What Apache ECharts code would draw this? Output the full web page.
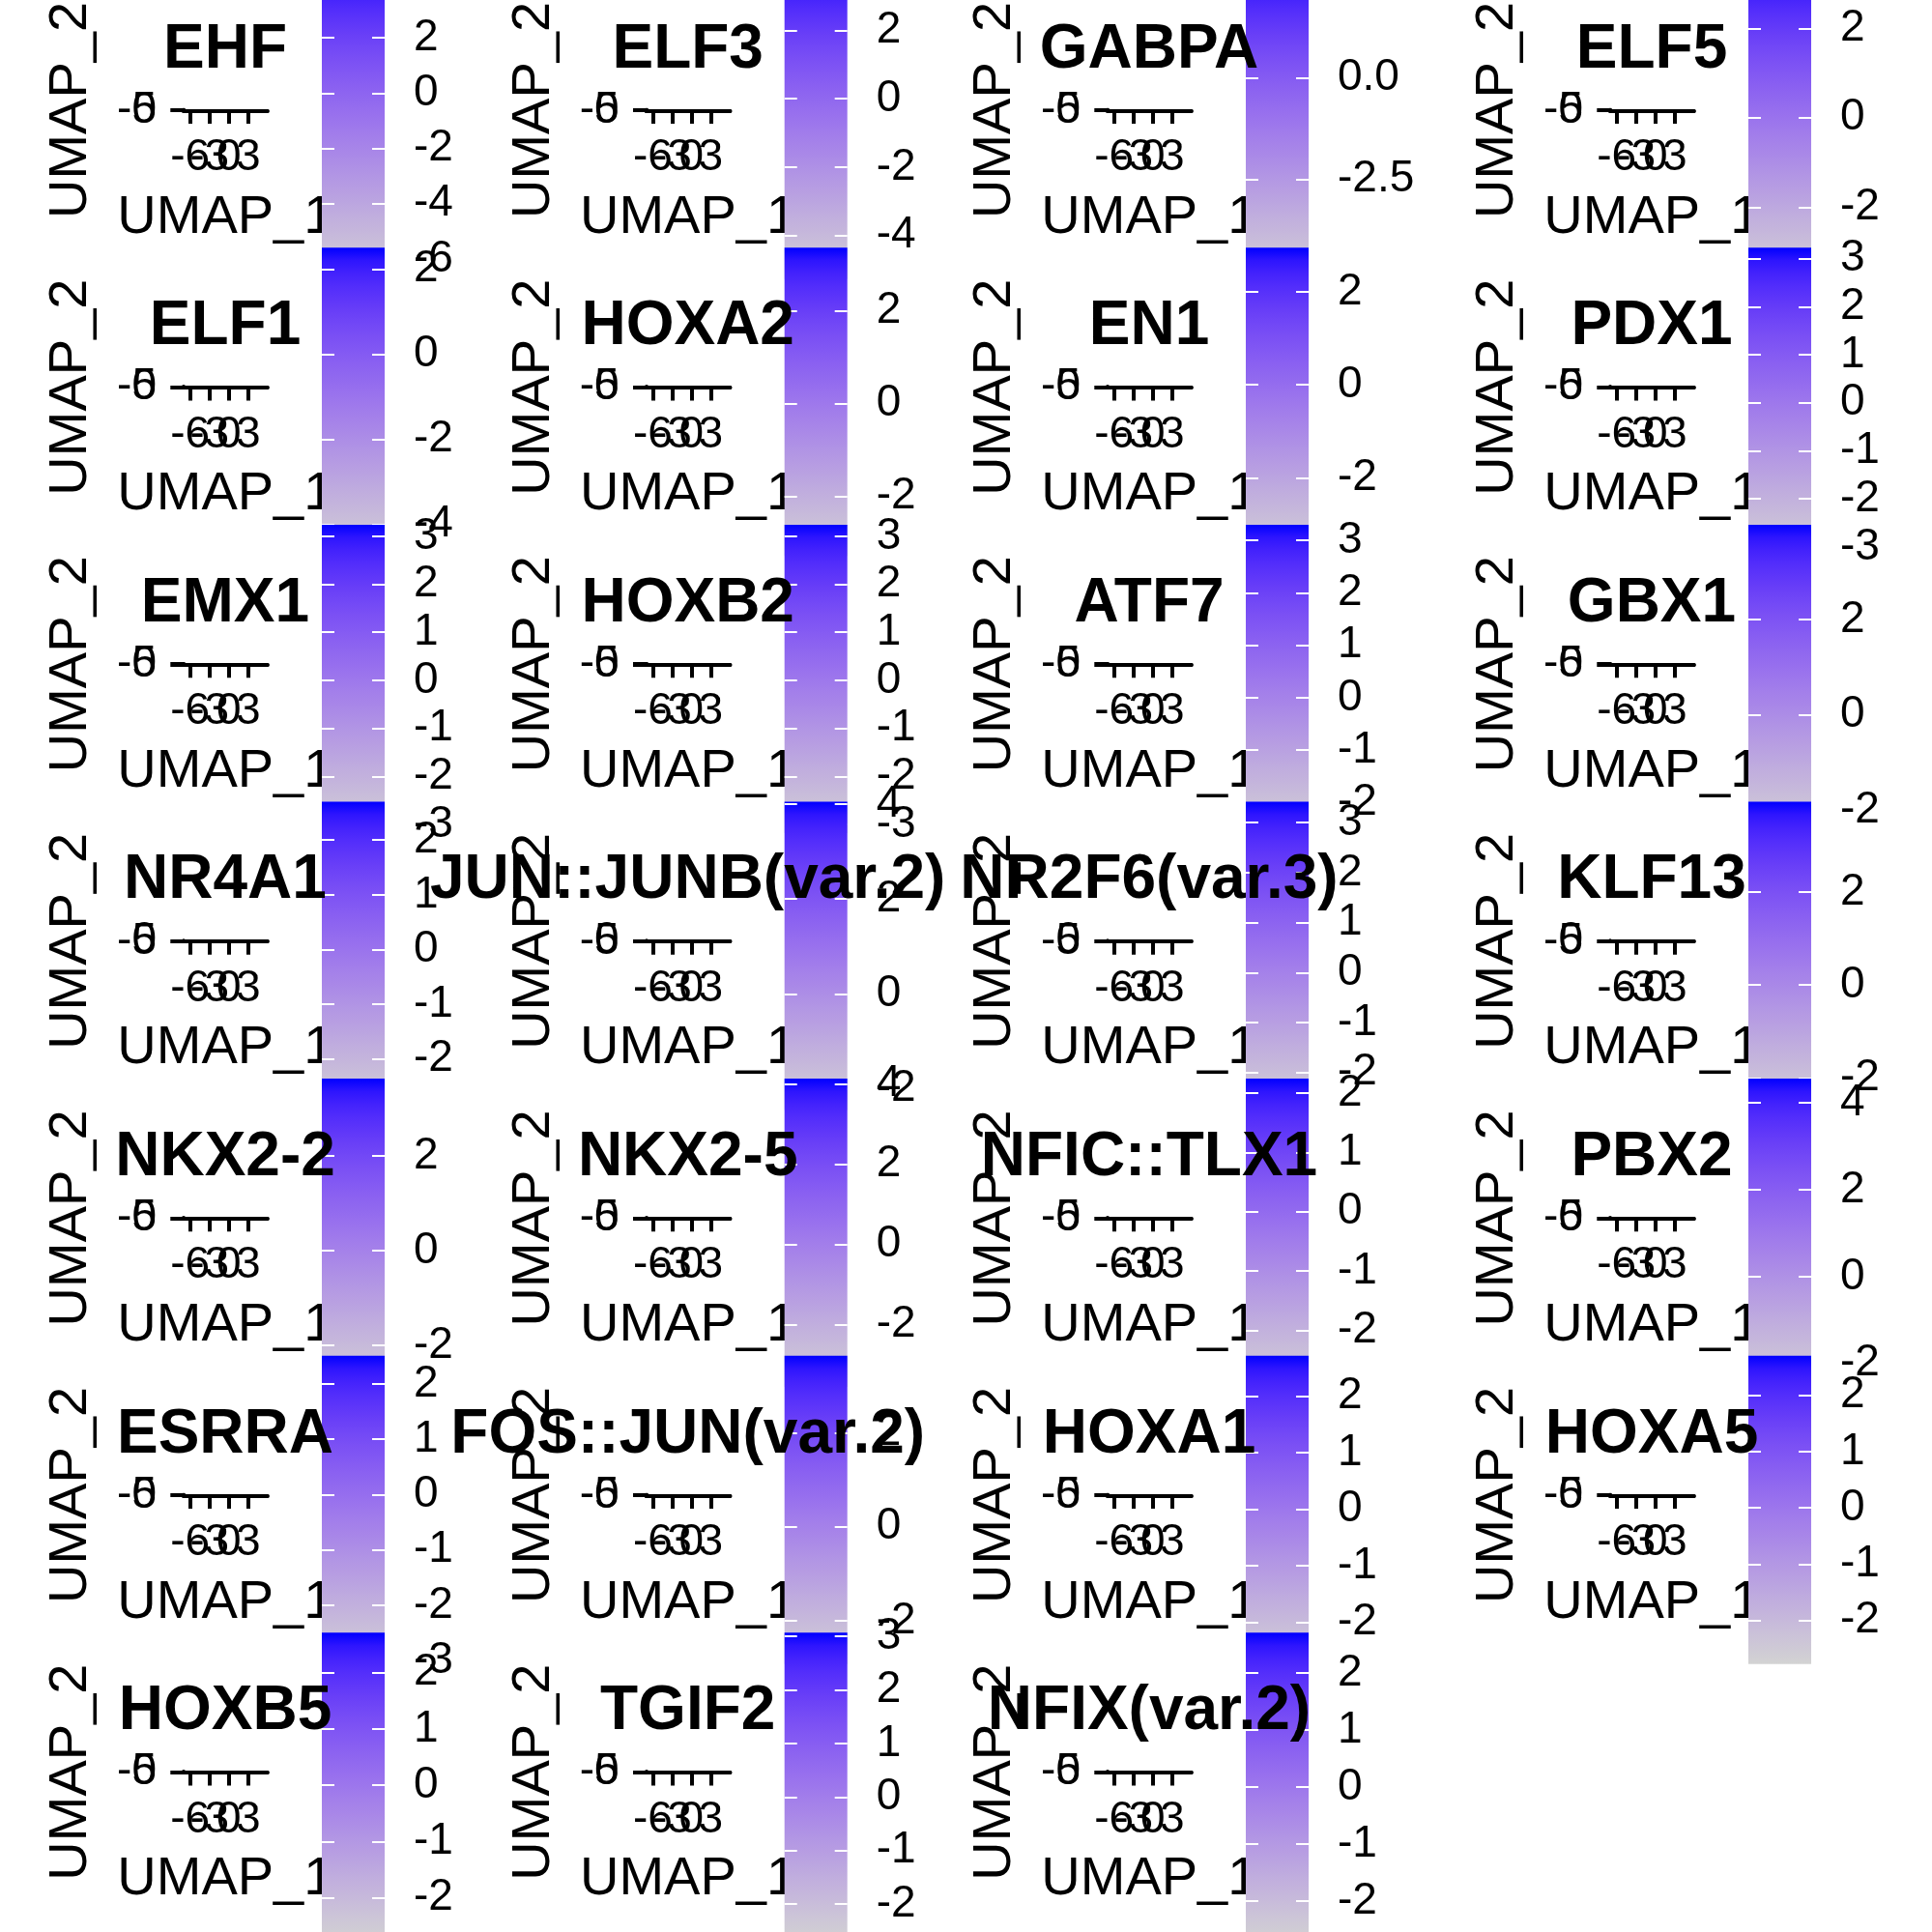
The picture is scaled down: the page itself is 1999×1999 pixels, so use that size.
<!DOCTYPE html>
<html><head><meta charset="utf-8">
<script src="https://cdn.jsdelivr.net/npm/echarts@6/dist/echarts.min.js"></script>
<style>html,body{margin:0;padding:0;background:#fff}#c{width:1999px;height:1999px}</style>
</head><body><div id="c"></div>
<script>
// ---------- data ----------
const features = ['EHF','ELF3','GABPA','ELF5','ELF1','HOXA2','EN1','PDX1','EMX1','HOXB2','ATF7','GBX1',
  'NR4A1','JUN::JUNB(var.2)','NR2F6(var.3)','KLF13','NKX2-2','NKX2-5','NFIC::TLX1','PBX2',
  'ESRRA','FOS::JUN(var.2)','HOXA1','HOXA5','HOXB5','TGIF2','NFIX(var.2)'];
const scoreMin = [-6.72,-5.27,-4.95,-3.61, -4.75,-3.29,-3.68,-3.19, -3.18,-3.18,-2.58,-2.47,
  -2.93,-2.45,-2.75,-2.69, -2.88,-3.55,-2.95,-2.54, -3.06,-2.92,-2.74,-2.77, -2.77,-2.69,-2.70];
const scoreMax = [4.42,3.74,2.645,3.29, 2.5,3.36,2.95,3.23, 3.24,3.24,3.30,3.98,
  2.7,4.05,3.42,3.94, 3.63,4.13,2.24,4.55, 2.51,3.64,2.72,2.70, 2.71,3.07,2.71];
const scoreTicks = [
  [4,2,0,-2,-4,-6],[2,0,-2,-4],[2.5,0,-2.5],[2,0,-2],
  [2,0,-2,-4],[2,0,-2],[2,0,-2],[3,2,1,0,-1,-2,-3],
  [3,2,1,0,-1,-2,-3],[3,2,1,0,-1,-2,-3],[3,2,1,0,-1,-2],[2,0,-2],
  [2,1,0,-1,-2],[4,2,0,-2],[3,2,1,0,-1,-2],[2,0,-2],
  [2,0,-2],[4,2,0,-2],[2,1,0,-1,-2],[4,2,0,-2],
  [2,1,0,-1,-2,-3],[2,0,-2],[2,1,0,-1,-2],[2,1,0,-1,-2],
  [2,1,0,-1,-2],[3,2,1,0,-1,-2],[2,1,0,-1,-2]];
const umapXTicks = [-6,-3,0,3];
const umapYTicks = [-5,0];
const umapXRange = [-7, 6];
const umapYRange = [-6.5, 3.5];

// ---------- colour ramp (lightgrey -> blue, CIELAB) ----------
const lowCol = '#D3D3D3', highCol = '#0000FF';
function hex2rgb(h){return [parseInt(h.slice(1,3),16),parseInt(h.slice(3,5),16),parseInt(h.slice(5,7),16)];}
function toLin(c){c/=255;return c<=0.04045?c/12.92:Math.pow((c+0.055)/1.055,2.4);}
function fromLin(c){c=c<=0.0031308?12.92*c:1.055*Math.pow(c,1/2.4)-0.055;return Math.max(0,Math.min(255,Math.round(c*255)));}
const WX=0.95047,WY=1,WZ=1.08883;
function ff(t){return t>0.008856?Math.cbrt(t):7.787*t+16/116;}
function finv(t){return t>0.206893?t*t*t:(t-16/116)/7.787;}
function rgb2lab(rgb){const [r,g,b]=rgb.map(toLin);
  const X=(0.4124*r+0.3576*g+0.1805*b)/WX,Y=(0.2126*r+0.7152*g+0.0722*b)/WY,Z=(0.0193*r+0.1192*g+0.9505*b)/WZ;
  const fx=ff(X),fy=ff(Y),fz=ff(Z);return [116*fy-16,500*(fx-fy),200*(fy-fz)];}
function lab2rgb(L,a,b){const fy=(L+16)/116,fx=fy+a/500,fz=fy-b/200;
  const X=finv(fx)*WX,Y=finv(fy)*WY,Z=finv(fz)*WZ;
  const r=3.2406*X-1.5372*Y-0.4986*Z,g=-0.9689*X+1.8758*Y+0.0415*Z,bb=0.0557*X-0.2040*Y+1.0570*Z;
  return 'rgb('+fromLin(r)+','+fromLin(g)+','+fromLin(bb)+')';}
const labHi=rgb2lab(hex2rgb(highCol)), labLo=rgb2lab(hex2rgb(lowCol));
const stops=[];
for(let i=0;i<=24;i++){const t=i/24;
  stops.push({offset:t,color:lab2rgb(labHi[0]+(labLo[0]-labHi[0])*t,labHi[1]+(labLo[1]-labHi[1])*t,labHi[2]+(labLo[2]-labHi[2])*t)});}

// ---------- layout ----------
const COL_X=[0,478.7,956,1476], ROW_PITCH=286.6;
const FONT='Liberation Sans';
const chart=echarts.init(document.getElementById('c'),null,{renderer:'canvas',width:1999,height:1999});
const grids=[],xAxes=[],yAxes=[],series=[],titles=[];
function renderBar(params,api){
  const top=api.coord([0,api.value(2)]), bot=api.coord([1,api.value(1)]);
  return {type:'rect',shape:{x:top[0],y:top[1],width:bot[0]-top[0],height:bot[1]-top[1]},
    style:{fill:new echarts.graphic.LinearGradient(0,0,0,1,stops)}};
}
// the overlapping tick labels of the squashed UMAP panel are split over two stacked axes
const xTickSets=[umapXTicks.filter((v,i)=>i%2===0), umapXTicks.filter((v,i)=>i%2===1)];
const yTickSets=[[umapYTicks[0]],[umapYTicks[1]]];
const nameStyle={fontSize:56,color:'#000',fontFamily:FONT};
const blackLine={color:'#000',width:4};
features.forEach((name,k)=>{
  const r=Math.floor(k/4),c=k%4,x0=COL_X[c],y0=r*ROW_PITCH;
  for(let s=0;s<2;s++){
    const g=grids.length;
    grids.push({left:x0+190,top:y0+113.75,width:86.7,height:0.5,containLabel:false,outerBoundsMode:'none'});
    xAxes.push({gridIndex:g,type:'value',min:umapXRange[0],max:umapXRange[1],z:1,
      axisLine:{show:true,onZero:false,lineStyle:blackLine},
      axisTick:{show:true,length:13.7,lineStyle:blackLine,customValues:xTickSets[s]},
      axisLabel:{show:true,customValues:xTickSets[s],margin:26,fontSize:46,color:'#000',fontFamily:FONT},
      splitLine:{show:false},
      name:s===0?'UMAP_1':'',nameLocation:'middle',nameGap:83,nameTextStyle:nameStyle});
    yAxes.push({gridIndex:g,type:'value',min:umapYRange[0],max:umapYRange[1],z:1,
      axisLine:{show:true,onZero:false,lineStyle:blackLine},
      axisTick:{show:true,length:13.7,lineStyle:blackLine,customValues:yTickSets[s]},
      axisLabel:{show:true,customValues:yTickSets[s],margin:28,fontSize:46,color:'#000',fontFamily:FONT,padding:[6,0,0,0]},
      splitLine:{show:false},
      name:s===0?'UMAP_2':'',nameLocation:'middle',nameGap:88,nameTextStyle:nameStyle});
  }
  const gB=grids.length;
  grids.push({left:x0+333,top:y0-30.3,width:65,height:319,containLabel:false,outerBoundsMode:'none'});
  const xB=xAxes.length;
  xAxes.push({gridIndex:gB,type:'value',min:0,max:1,show:false});
  const ticks=scoreTicks[k];
  const dec=ticks.some(v=>!Number.isInteger(v))?1:0;
  const tickStyle={show:true,inside:true,length:13,lineStyle:{color:'#fff',width:2},customValues:ticks};
  yAxes.push({gridIndex:gB,type:'value',position:'left',min:scoreMin[k],max:scoreMax[k],z:11+2*k,
    axisLine:{show:false},axisTick:tickStyle,axisLabel:{show:false},splitLine:{show:false}});
  const yB=yAxes.length;
  yAxes.push({gridIndex:gB,type:'value',position:'right',min:scoreMin[k],max:scoreMax[k],z:11+2*k,
    axisLine:{show:false},axisTick:tickStyle,
    axisLabel:{show:true,customValues:ticks,showMinLabel:true,showMaxLabel:true,padding:[7,0,0,0],
      formatter:v=>Number(v).toFixed(dec),margin:30,fontSize:46,color:'#000',fontFamily:FONT},
    splitLine:{show:false}});
  series.push({type:'custom',xAxisIndex:xB,yAxisIndex:yB,z:10+2*k,silent:true,clip:false,
    encode:{x:0,y:[1,2]},data:[[0,scoreMin[k],scoreMax[k]]],renderItem:renderBar});
  titles.push({text:name,left:x0+233,top:y0+20,textAlign:'center',textVerticalAlign:'top',padding:0,z:200,
    textStyle:{fontSize:64,fontWeight:'bold',color:'#000',fontFamily:FONT}});
});
chart.setOption({animation:false,backgroundColor:'#fff',title:titles,grid:grids,xAxis:xAxes,yAxis:yAxes,series:series});
</script></body></html>
